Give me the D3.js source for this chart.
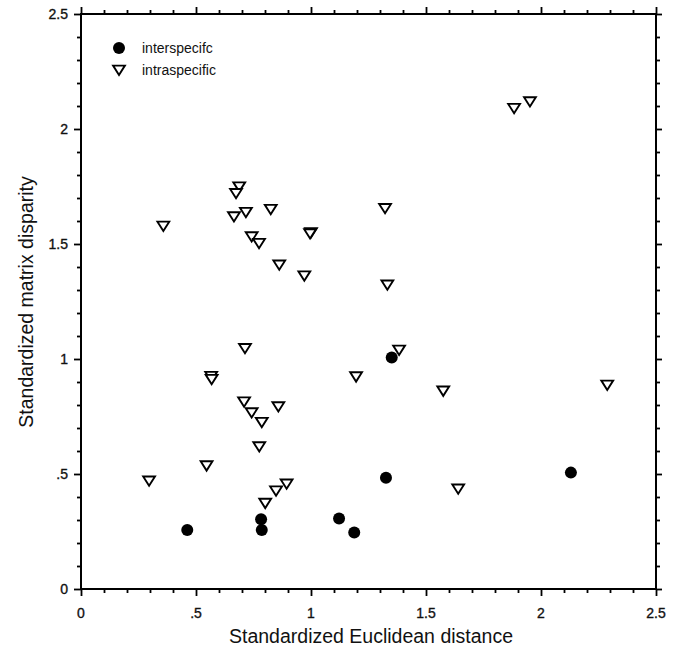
<!DOCTYPE html>
<html>
<head>
<meta charset="utf-8">
<script src="https://cdn.jsdelivr.net/npm/d3@7/dist/d3.min.js"></script>
<style>
  html, body { margin: 0; padding: 0; background: #fff; }
  text { font-family: "Liberation Sans", Arial, Helvetica, sans-serif; fill: #111; }
</style>
</head>
<body>
<svg id="chart" width="675" height="649"></svg>
<script>
// ---- data ----
const interX = [0.462, 0.783, 0.786, 1.351, 1.326, 1.122, 1.188, 2.130];
const interY = [0.257, 0.303, 0.257, 1.007, 0.484, 0.307, 0.246, 0.506];

const intraX = [0.358, 0.688, 0.674, 0.665, 0.717, 0.825, 0.742, 0.774, 0.862, 1.322,
                1.000, 0.996, 0.971, 1.332, 1.883, 1.952, 0.713, 0.566, 0.568, 0.709,
                0.742, 0.786, 0.858, 0.775, 0.546, 0.296, 0.848, 0.801, 0.894, 1.383,
                1.196, 1.575, 1.640, 2.288];
const intraY = [1.578, 1.749, 1.720, 1.619, 1.638, 1.651, 1.532, 1.503, 1.409, 1.655,
                1.550, 1.545, 1.362, 1.322, 2.090, 2.119, 1.046, 0.925, 0.912, 0.814,
                0.767, 0.725, 0.793, 0.619, 0.536, 0.470, 0.427, 0.373, 0.457, 1.039,
                0.923, 0.861, 0.435, 0.887];

const majorTicks = [0, 0.5, 1, 1.5, 2, 2.5];
const tickLabels = ["0", ".5", "1", "1.5", "2", "2.5"];
const minorTicks = d3.range(0, 26).map(i => i / 10).filter(v => Math.abs(v * 2 - Math.round(v * 2)) > 1e-6);

const seriesNames = ["interspecifc", "intraspecific"];
const xTitle = "Standardized Euclidean distance";
const yTitle = "Standardized matrix disparity";

// ---- layout ----
const svg = d3.select("#chart");
const x = d3.scaleLinear().domain([0, 2.5]).range([81, 656]);
const y = d3.scaleLinear().domain([0, 2.5]).range([589, 14]);

const triPath = "M-5.9,-4.4L5.9,-4.4L0,4.9Z";

// axes (ticks outward on all four sides)
function addAxis(gen, transform) {
  const g = svg.append("g").attr("transform", transform).call(gen);
  g.select(".domain").remove();
  g.selectAll("text").remove();
  g.selectAll("line").attr("stroke", "#000").attr("stroke-width", 1.8);
  return g;
}
addAxis(d3.axisBottom(x).tickValues(majorTicks).tickSize(7), `translate(0,${y(0)})`);
addAxis(d3.axisBottom(x).tickValues(minorTicks).tickSize(4), `translate(0,${y(0)})`);
addAxis(d3.axisTop(x).tickValues(majorTicks).tickSize(7), `translate(0,${y(2.5)})`);
addAxis(d3.axisTop(x).tickValues(minorTicks).tickSize(4), `translate(0,${y(2.5)})`);
addAxis(d3.axisLeft(y).tickValues(majorTicks).tickSize(7), `translate(${x(0)},0)`);
addAxis(d3.axisLeft(y).tickValues(minorTicks).tickSize(4), `translate(${x(0)},0)`);
addAxis(d3.axisRight(y).tickValues(majorTicks).tickSize(6), `translate(${x(2.5)},0)`);
addAxis(d3.axisRight(y).tickValues(minorTicks).tickSize(4), `translate(${x(2.5)},0)`);

// frame
svg.append("rect")
  .attr("x", x(0)).attr("y", y(2.5))
  .attr("width", x(2.5) - x(0)).attr("height", y(0) - y(2.5))
  .attr("fill", "none").attr("stroke", "#000").attr("stroke-width", 2);

// tick labels
svg.append("g").selectAll("text").data(majorTicks).join("text")
  .attr("x", d => x(d)).attr("y", 618)
  .attr("text-anchor", "middle").attr("font-size", 14)
  .attr("stroke", "#111").attr("stroke-width", 0.35)
  .text((d, i) => tickLabels[i]);
svg.append("g").selectAll("text").data(majorTicks).join("text")
  .attr("x", 68).attr("y", d => y(d)).attr("dy", "0.36em")
  .attr("text-anchor", "end").attr("font-size", 14)
  .attr("stroke", "#111").attr("stroke-width", 0.35)
  .text((d, i) => tickLabels[i]);

// axis titles
svg.append("text").attr("x", 371).attr("y", 643)
  .attr("text-anchor", "middle").attr("font-size", 19.5).text(xTitle);
svg.append("text").attr("transform", "translate(33,302) rotate(-90)")
  .attr("text-anchor", "middle").attr("font-size", 19.5).text(yTitle);

// points
svg.append("g").selectAll("path").data(intraX.map((v, i) => [v, intraY[i]])).join("path")
  .attr("d", triPath)
  .attr("transform", d => `translate(${x(d[0])},${y(d[1])})`)
  .attr("fill", "#fff").attr("stroke", "#000").attr("stroke-width", 1.9)
  .attr("stroke-linejoin", "miter");
svg.append("g").selectAll("circle").data(interX.map((v, i) => [v, interY[i]])).join("circle")
  .attr("cx", d => x(d[0])).attr("cy", d => y(d[1])).attr("r", 6)
  .attr("fill", "#000");

// legend
svg.append("circle").attr("cx", 119).attr("cy", 48).attr("r", 6).attr("fill", "#000");
svg.append("path").attr("d", triPath).attr("transform", "translate(119,70)")
  .attr("fill", "#fff").attr("stroke", "#000").attr("stroke-width", 1.9);
svg.append("text").attr("x", 142).attr("y", 48).attr("dy", "0.36em")
  .attr("font-size", 14).text(seriesNames[0]);
svg.append("text").attr("x", 142).attr("y", 70).attr("dy", "0.36em")
  .attr("font-size", 14).text(seriesNames[1]);
</script>
</body>
</html>
